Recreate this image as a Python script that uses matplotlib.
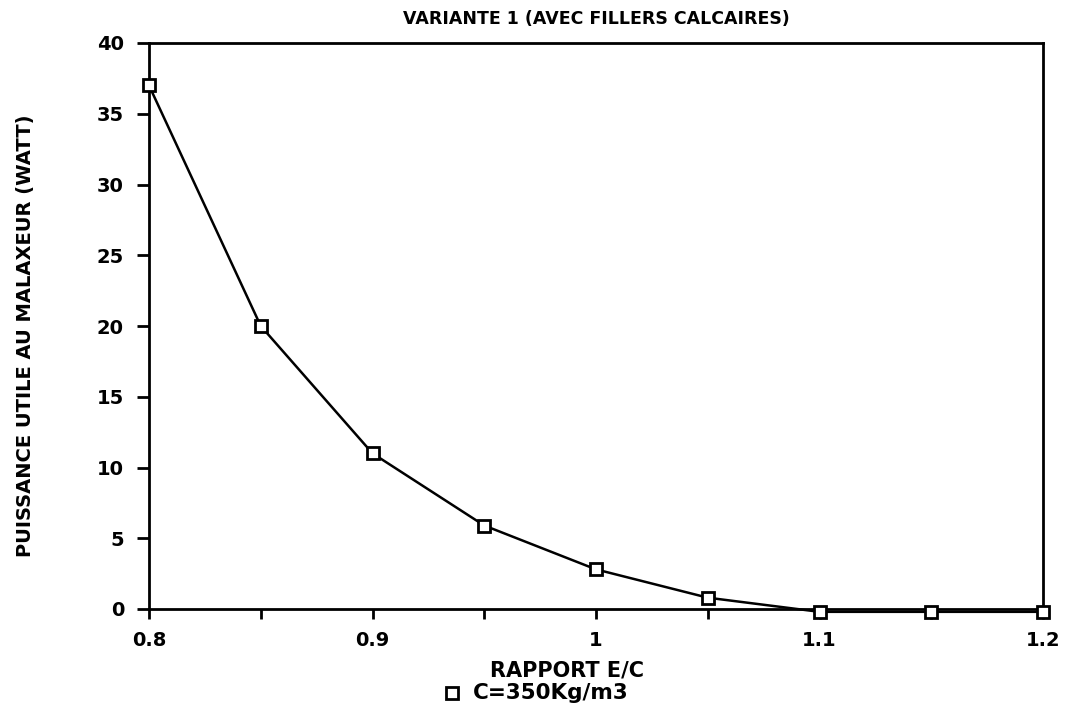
import matplotlib
matplotlib.use("Agg")
import matplotlib.pyplot as plt
from matplotlib.ticker import MultipleLocator, FuncFormatter
from matplotlib.lines import Line2D

# Data
ratio_ec = [0.80, 0.85, 0.90, 0.95, 1.00, 1.05, 1.10, 1.15, 1.20]
puissance = [37.0, 20.0, 11.0, 5.9, 2.8, 0.8, -0.2, -0.2, -0.2]
title = "VARIANTE 1 (AVEC FILLERS CALCAIRES)"
xlabel = "RAPPORT E/C"
ylabel = "PUISSANCE UTILE AU MALAXEUR (WATT)"
series_label = "C=350Kg/m3"

plt.rcParams['font.family'] = ['DejaVu Sans']
fig = plt.figure(figsize=(10.65, 7.12), dpi=100)
L, R, T, B = 149, 1043, 43, 609
ax = fig.add_axes([L/1065, (712-B)/712, (R-L)/1065, (B-T)/712])

ax.plot(ratio_ec, puissance, color='black', lw=1.8, marker='s', markersize=8,
        markerfacecolor='white', markeredgecolor='black', markeredgewidth=2,
        clip_on=False, zorder=5)

ax.set_xlim(0.8, 1.2)
ax.set_ylim(0, 40)
ax.xaxis.set_major_locator(MultipleLocator(0.1))
ax.xaxis.set_minor_locator(MultipleLocator(0.05))
ax.yaxis.set_major_locator(MultipleLocator(5))

def fmt(v, pos):
    s = f"{v:.1f}"
    if s.endswith(".0"):
        s = s[:-2]
    return s
ax.xaxis.set_major_formatter(FuncFormatter(fmt))

for sp in ax.spines.values():
    sp.set_linewidth(2)
ax.tick_params(axis='x', which='both', direction='out', length=7, width=2,
               labelsize=14, pad=9)
ax.tick_params(axis='y', which='major', direction='out', length=9, width=2,
               labelsize=14, pad=9)
for lab in ax.get_xticklabels() + ax.get_yticklabels():
    lab.set_fontweight('bold')

ax.set_title(title, fontsize=12.5, fontweight='bold', pad=14)

fig.text(26/1065, 1 - 336/712, ylabel, ha='center', va='center', rotation=90,
         fontsize=14, fontweight='bold')
fig.text(567/1065, 1 - 670/712, xlabel, ha='center', va='center', fontsize=15, fontweight='bold')
fig.text(473/1065, 1 - 693/712, series_label, ha='left', va='center', fontsize=15.5, fontweight='bold')
fig.add_artist(Line2D([452/1065], [1 - 693/712], marker='s', markersize=8,
                      markerfacecolor='white', markeredgecolor='black', markeredgewidth=2,
                      transform=fig.transFigure))

fig.savefig("out.png", dpi=100)
